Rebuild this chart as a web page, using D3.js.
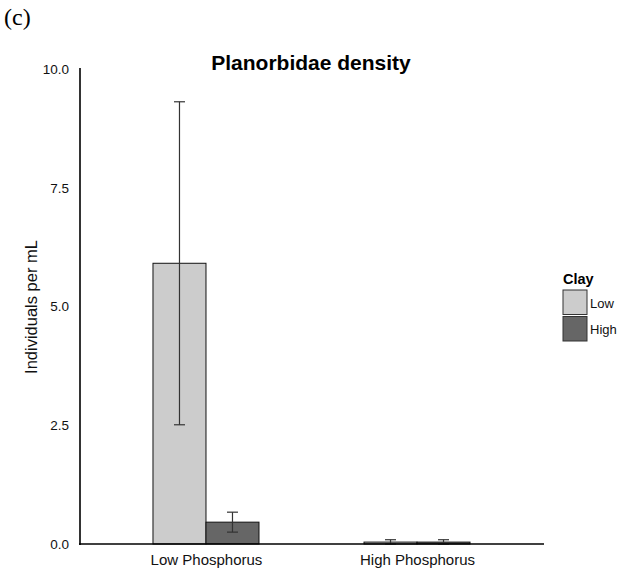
<!DOCTYPE html>
<html><head><meta charset="utf-8">
<script src="https://cdn.jsdelivr.net/npm/d3@7"></script>
<style>body{margin:0;background:#fff;} svg{display:block;font-family:"Liberation Sans",Arial,sans-serif;}</style>
</head><body>
<script>
const phosphorus = ["Low Phosphorus", "High Phosphorus"];
const clay = ["Low", "High"];
const means = { "Low Phosphorus": [5.91, 0.46], "High Phosphorus": [0.04, 0.04] };
const errLow = { "Low Phosphorus": [2.51, 0.25], "High Phosphorus": [0.0, 0.0] };
const errHigh = { "Low Phosphorus": [9.31, 0.67], "High Phosphorus": [0.09, 0.09] };
const yTicks = [0, 2.5, 5, 7.5, 10];
const colors = ["#cccccc", "#666666"];

const W = 619, H = 574;
const svg = d3.select("body").append("svg").attr("width", W).attr("height", H);

const y = d3.scaleLinear().domain([0, 10]).range([544, 69]);
const x0 = d3.scalePoint().domain(phosphorus).range([80, 543]).padding(0.597);
const x1 = d3.scaleBand().domain(clay).range([-53, 53]);

const rows = [];
phosphorus.forEach(p => clay.forEach((c, i) => rows.push({p, c, i, m: means[p][i], lo: errLow[p][i], hi: errHigh[p][i]})));

// bars
svg.append("g").selectAll("rect").data(rows).join("rect")
  .attr("x", d => x0(d.p) + x1(d.c))
  .attr("y", d => y(d.m))
  .attr("width", x1.bandwidth())
  .attr("height", d => y(0) - y(d.m))
  .attr("fill", d => colors[d.i])
  .attr("stroke", "#111").attr("stroke-width", 1);

// error bars
const eg = svg.append("g").attr("stroke", "#333").attr("stroke-width", 1.2);
rows.forEach(d => {
  const cx = x0(d.p) + x1(d.c) + x1.bandwidth() / 2;
  eg.append("line").attr("x1", cx).attr("x2", cx).attr("y1", y(d.hi)).attr("y2", y(d.lo));
  eg.append("line").attr("x1", cx - 5.5).attr("x2", cx + 5.5).attr("y1", y(d.hi)).attr("y2", y(d.hi));
  eg.append("line").attr("x1", cx - 5.5).attr("x2", cx + 5.5).attr("y1", y(d.lo)).attr("y2", y(d.lo));
});

// y axis
const ya = svg.append("g").attr("transform", "translate(80,0)")
  .call(d3.axisLeft(y).tickValues(yTicks).tickFormat(d3.format(".1f")).tickSize(0).tickPadding(11));
ya.select(".domain").attr("stroke", "#000").attr("stroke-width", 1.6).attr("d", "M0,68V545");
ya.selectAll("text").attr("font-size", 13.5).attr("fill", "#111").attr("font-family", "Liberation Sans, Arial, sans-serif");

// x axis
const xa = svg.append("g").attr("transform", "translate(0,544)")
  .call(d3.axisBottom(x0).tickSize(0).tickPadding(10));
xa.select(".domain").attr("stroke", "#000").attr("stroke-width", 1.6).attr("d", "M79,0H544");
xa.selectAll("text").attr("font-size", 15).attr("fill", "#111").attr("font-family", "Liberation Sans, Arial, sans-serif");

// title
svg.append("text").attr("x", 311).attr("y", 70).attr("text-anchor", "middle")
  .attr("font-size", 21).attr("font-weight", "bold").attr("fill", "#000").text("Planorbidae density");

// panel label
svg.append("text").attr("x", 4).attr("y", 25).attr("font-family", "Liberation Serif, Times New Roman, serif")
  .attr("font-size", 24).attr("fill", "#000").text("(c)");

// y label
svg.append("text").attr("transform", "translate(37,307) rotate(-90)").attr("text-anchor", "middle")
  .attr("font-size", 16.5).attr("fill", "#111").text("Individuals per mL");

// legend
const lg = svg.append("g");
lg.append("text").attr("x", 563).attr("y", 284).attr("font-size", 14.5).attr("font-weight", "bold").attr("fill", "#000").text("Clay");
clay.forEach((c, i) => {
  lg.append("rect").attr("x", 563).attr("y", 290 + i * 26.5).attr("width", 24).attr("height", 24.5)
    .attr("fill", colors[i]).attr("stroke", "#333").attr("stroke-width", 1);
  lg.append("text").attr("x", 590).attr("y", 307.5 + i * 26.5).attr("font-size", 13).attr("fill", "#111").text(c);
});
</script>
</body></html>
